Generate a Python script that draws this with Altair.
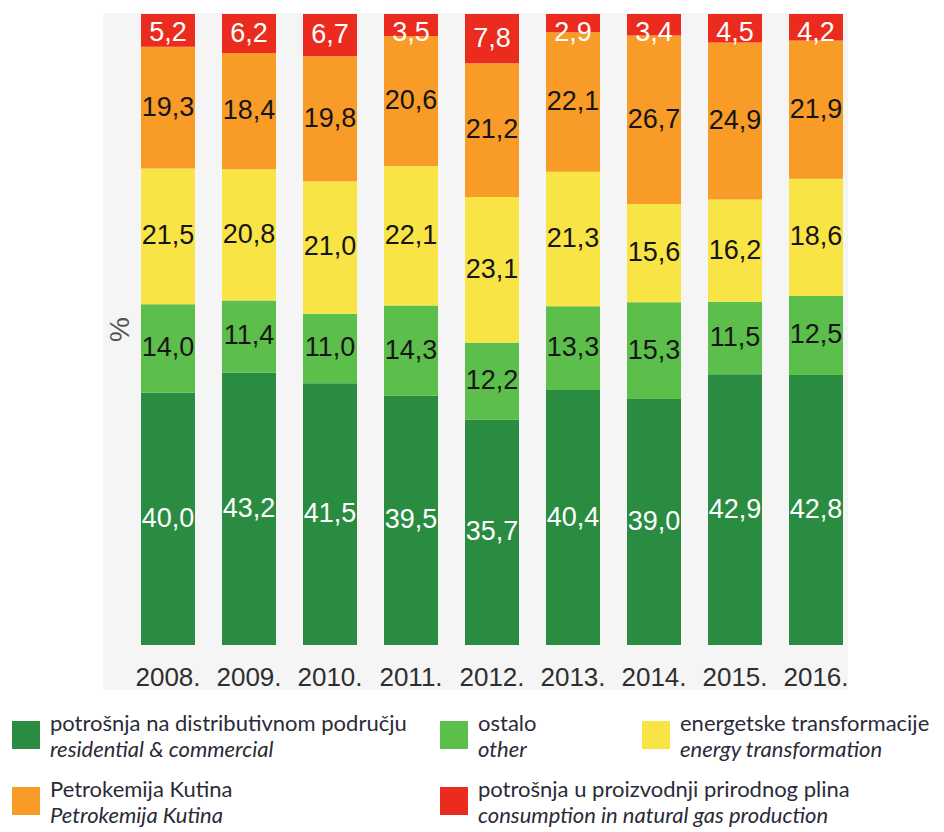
import altair as alt
import pandas as pd

years = ["2008", "2009", "2010", "2011", "2012", "2013", "2014", "2015", "2016"]
residential = [40.0, 43.2, 41.5, 39.5, 35.7, 40.4, 39.0, 42.9, 42.8]
other = [14.0, 11.4, 11.0, 14.3, 12.2, 13.3, 15.3, 11.5, 12.5]
energy = [21.5, 20.8, 21.0, 22.1, 23.1, 21.3, 15.6, 16.2, 18.6]
petrokemija = [19.3, 18.4, 19.8, 20.6, 21.2, 22.1, 26.7, 24.9, 21.9]
gas_production = [5.2, 6.2, 6.7, 3.5, 7.8, 2.9, 3.4, 4.5, 4.2]

categories = [
    "potrošnja na distributivnom području",
    "ostalo",
    "energetske transformacije",
    "Petrokemija Kutina",
    "potrošnja u proizvodnji prirodnog plina",
]
categories_en = [
    "residential & commercial",
    "other",
    "energy transformation",
    "Petrokemija Kutina",
    "consumption in natural gas production",
]
colors = ["#2a8c41", "#5dbf4b", "#f9e445", "#f99b27", "#ea2b1d"]

series = [residential, other, energy, petrokemija, gas_production]
rows = []
for ci, (cat, vals) in enumerate(zip(categories, series)):
    for y, v in zip(years, vals):
        rows.append({"year": y, "cat": cat, "value": v, "order": ci})
df = pd.DataFrame(rows)

leg_df = pd.DataFrame({"cat": categories, "en": categories_en, "idx": list(range(len(categories)))})

VALFONT = "Liberation Sans, Arial, sans-serif"
LEGFONT = "Lato"

color_scale = alt.Scale(domain=categories, range=colors)
x_scale = alt.Scale(range=[38, 740], paddingInner=1 / 3, paddingOuter=0)
y_scale = alt.Scale(domain=[0, 100], range=[632, 1], nice=False)

bars = alt.Chart(df).mark_bar().encode(
    x=alt.X(
        "year:N",
        scale=x_scale,
        title=None,
        axis=alt.Axis(
            domain=False, ticks=False, labelPadding=-13, labelBaseline="middle",
            labelFontSize=26, labelFont=VALFONT, labelColor="#2e2e2e",
            labelAngle=0, labelExpr="datum.label + '.'",
        ),
    ),
    y=alt.Y(
        "value:Q",
        stack="zero",
        scale=y_scale,
        axis=alt.Axis(
            domain=False, ticks=False, labels=False, grid=False, title="%",
            titleX=17, titleY=316, titleAngle=270, titleFontSize=28,
            titleFont=VALFONT, titleColor="#555555", titleFontWeight="normal",
            titleAlign="center", titleBaseline="middle",
        ),
    ),
    color=alt.Color("cat:N", scale=color_scale, legend=None),
    order=alt.Order("order:Q", sort="ascending"),
)

labels = (
    alt.Chart(df)
    .transform_stack(
        stack="value", groupby=["year"],
        sort=[alt.SortField("order", order="ascending")], as_=["y0", "y1"],
    )
    .transform_calculate(
        mid="datum.y1 - max(datum.value / 2, 3)",
        label="replace(format(datum.value, '.1f'), '.', ',')",
    )
    .mark_text(font=VALFONT, fontSize=27, baseline="middle", align="center")
    .encode(
        x=alt.X("year:N", scale=x_scale),
        y=alt.Y("mid:Q", scale=y_scale),
        text="label:N",
        color=alt.condition(
            "datum.order == 0 || datum.order == 4",
            alt.value("white"), alt.value("#151515"),
        ),
    )
)

main = alt.layer(bars, labels)

leg_base = alt.Chart(leg_df).transform_calculate(
    col="datum.idx % 3", row="floor(datum.idx / 3)"
)
lx = alt.X("col:Q", scale=alt.Scale(domain=[0, 1, 2], range=[-77, 351, 553], nice=False, zero=False), axis=None)
ly = alt.Y("row:Q", scale=alt.Scale(domain=[0, 1], range=[722, 788], nice=False, zero=False), axis=None)

squares = leg_base.mark_square(size=784, opacity=1).encode(
    x=lx, y=ly, color=alt.Color("cat:N", scale=color_scale, legend=None)
)
t1 = leg_base.mark_text(
    align="left", baseline="alphabetic", dx=24, dy=-4, font=LEGFONT,
    fontSize=22, color="#2b2b38",
).encode(x=lx, y=ly, text="cat:N")
t2 = leg_base.mark_text(
    align="left", baseline="alphabetic", dx=24, dy=22, font=LEGFONT,
    fontSize=22, fontStyle="italic", color="#2b2b38",
).encode(x=lx, y=ly, text="en:N")

legend = alt.layer(squares, t1, t2)

chart = (
    alt.layer(main, legend)
    .resolve_scale(x="independent", y="independent")
    .properties(width=745, height=677, padding={"left": 4, "top": 5, "right": 0, "bottom": 0})
    .configure_view(fill="#f5f5f5", strokeWidth=0)
)

chart.save("out.html", embed_options={"renderer": "svg", "actions": False})
